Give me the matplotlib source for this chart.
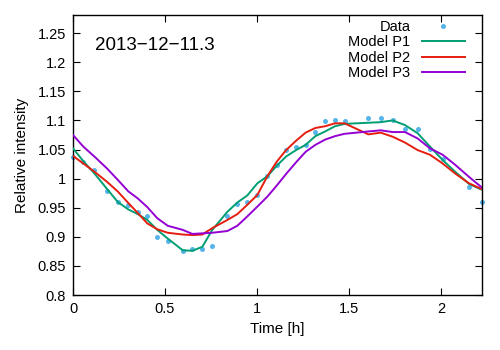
import matplotlib
matplotlib.use("Agg")
import matplotlib.pyplot as plt
from matplotlib.ticker import FormatStrFormatter, MultipleLocator

plt.rcParams['font.family'] = ['Liberation Sans', 'DejaVu Sans']

# observed points
t_data = [0.0, 0.056, 0.116, 0.183, 0.243, 0.301, 0.352, 0.404, 0.458, 0.515,
          0.596, 0.649, 0.703, 0.757, 0.839, 0.893, 0.947, 1.002, 1.056, 1.107,
          1.158, 1.212, 1.264, 1.317, 1.370, 1.424, 1.476, 1.605, 1.672, 1.737,
          1.804, 1.873, 1.940, 2.009, 2.152, 2.221]
y_data = [1.037, 1.028, 1.015, 0.979, 0.960, 0.954, 0.942, 0.935, 0.899, 0.893,
          0.876, 0.879, 0.879, 0.885, 0.935, 0.956, 0.959, 0.972, 1.005, 1.024,
          1.049, 1.054, 1.057, 1.080, 1.099, 1.101, 1.099, 1.105, 1.104, 1.100,
          1.085, 1.085, 1.051, 1.033, 0.985, 0.959]

# model curves
t_model = [0.0, 0.056, 0.116, 0.183, 0.243, 0.301, 0.352, 0.404, 0.458, 0.515,
           0.596, 0.649, 0.703, 0.757, 0.839, 0.893, 0.947, 1.002, 1.056, 1.107,
           1.158, 1.212, 1.264, 1.317, 1.370, 1.424, 1.476, 1.605, 1.672, 1.737,
           1.804, 1.873, 1.940, 2.009, 2.076, 2.152, 2.221]
p1 = [1.052, 1.030, 1.009, 0.983, 0.960, 0.947, 0.939, 0.929, 0.912, 0.897,
      0.877, 0.876, 0.883, 0.912, 0.943, 0.959, 0.971, 0.992, 1.004, 1.022,
      1.038, 1.049, 1.058, 1.073, 1.081, 1.090, 1.094, 1.096, 1.097, 1.100,
      1.092, 1.078, 1.055, 1.032, 1.012, 0.991, 0.981]
p2 = [1.039, 1.026, 1.012, 0.995, 0.978, 0.958, 0.941, 0.923, 0.913, 0.907,
      0.904, 0.903, 0.904, 0.915, 0.929, 0.939, 0.955, 0.972, 1.004, 1.029,
      1.049, 1.065, 1.079, 1.087, 1.090, 1.095, 1.095, 1.076, 1.079, 1.072,
      1.062, 1.049, 1.041, 1.026, 1.009, 0.992, 0.982]
p3 = [1.075, 1.055, 1.038, 1.018, 0.998, 0.978, 0.966, 0.951, 0.932, 0.919,
      0.912, 0.905, 0.906, 0.907, 0.910, 0.919, 0.935, 0.952, 0.969, 0.988,
      1.008, 1.028, 1.046, 1.058, 1.067, 1.073, 1.077, 1.081, 1.083, 1.080,
      1.080, 1.069, 1.052, 1.041, 1.024, 1.003, 0.985]

fig = plt.figure(figsize=(5, 3.5), dpi=100)
ax = fig.add_axes([0.146, 0.157, 0.817, 0.8])

ax.plot(t_data, y_data, 'o', color='#56b4e9', ms=3.6, mec='none',
        clip_on=False, label='Data', zorder=2)
ax.plot(t_model, p1, color='#009e73', lw=1.4, label='Model P1', zorder=3)
ax.plot(t_model, p2, color='#e51e10', lw=1.4, label='Model P2', zorder=3)
ax.plot(t_model, p3, color='#9400d3', lw=1.4, label='Model P3', zorder=3)

ax.set_xlim(0, 2.22)
ax.set_ylim(0.8, 1.281)
ax.xaxis.set_major_locator(MultipleLocator(0.5))
ax.yaxis.set_major_locator(MultipleLocator(0.05))
ax.xaxis.set_major_formatter(FormatStrFormatter('%g'))
ax.yaxis.set_major_formatter(FormatStrFormatter('%g'))
ax.tick_params(direction='in', top=True, right=True, length=5, width=0.8,
               labelsize=10.5, pad=5)
for s in ax.spines.values():
    s.set_linewidth(1.0)

ax.set_xlabel('Time [h]', fontsize=11, labelpad=4)
ax.set_ylabel('Relative intensity', fontsize=11, labelpad=6)

ax.text(0.055, 0.893, '2013\u221212\u221211.3', transform=ax.transAxes,
        fontsize=13.5, va='center', ha='left')

leg = ax.legend(loc='upper right', bbox_to_anchor=(0.987, 1.025),
                markerfirst=False, frameon=False, fontsize=10.5,
                handlelength=2.9, handletextpad=0.8, labelspacing=0.1,
                borderpad=0.3)

fig.savefig('out.png', dpi=100)
